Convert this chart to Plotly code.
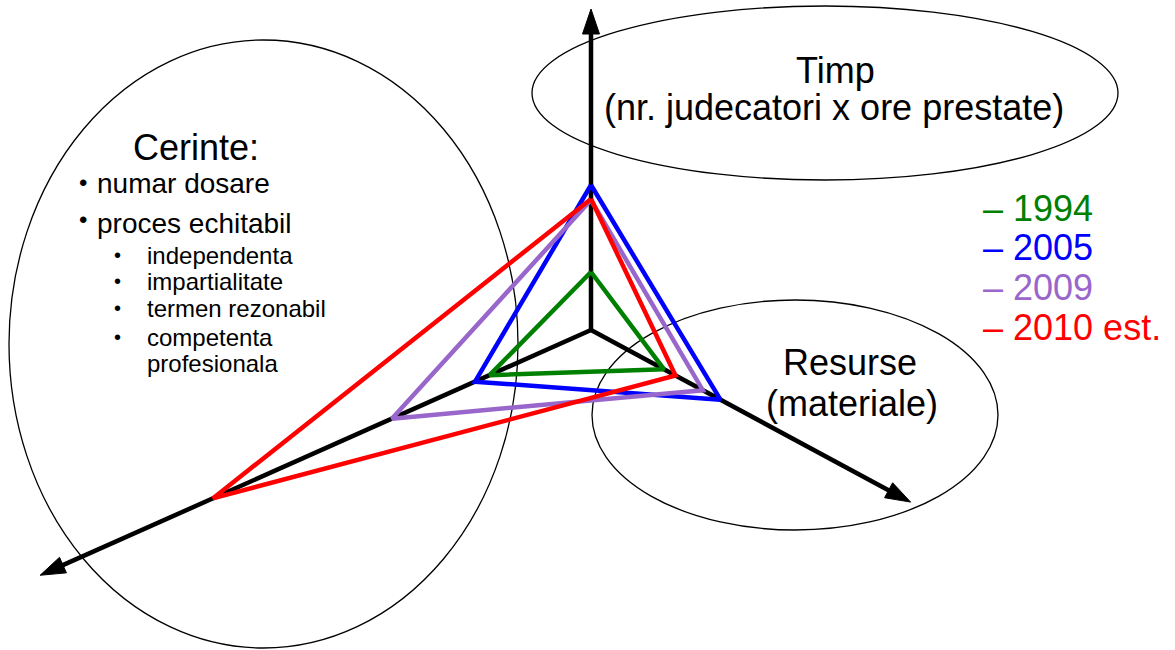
import math
import plotly.graph_objects as go

# ---------------- data ----------------
axis_names = ["Timp", "Cerinte", "Resurse"]
axis_angles_deg = [90.0, 204.0, -28.3]      # direction of each axis
axis_lengths = [321, 603, 363]               # drawn length of each axis

years = ["1994", "2005", "2009", "2010 est."]
timp_values = [58, 145, 130, 131]
cerinte_values = [111, 127, 218, 414]
resurse_values = [83, 147, 127, 96]
year_colors = ["#008000", "#0000ff", "#9966cc", "#ff0000"]

origin = (591, 330)

W, H = 1175, 650
FONT = "Liberation Sans, Arial, sans-serif"
HEAD_LEN, HEAD_HALF = 25, 8.5


def to_xy(axis_idx, r, side=0.0):
    a = math.radians(axis_angles_deg[axis_idx])
    ux, uy = math.cos(a), -math.sin(a)
    px, py = -uy, ux
    return origin[0] + r * ux + side * px, origin[1] + r * uy + side * py


fig = go.Figure()

# axes shafts (below the triangles)
for i in range(3):
    tx, ty = to_xy(i, axis_lengths[i] - HEAD_LEN + 2)
    fig.add_trace(go.Scatter(x=[origin[0], tx], y=[origin[1], ty], mode="lines",
                             line=dict(color="black", width=4.5), hoverinfo="skip",
                             showlegend=False))
    # arrow head
    p_tip = to_xy(i, axis_lengths[i])
    p_l = to_xy(i, axis_lengths[i] - HEAD_LEN, HEAD_HALF)
    p_r = to_xy(i, axis_lengths[i] - HEAD_LEN, -HEAD_HALF)
    fig.add_trace(go.Scatter(x=[p_tip[0], p_l[0], p_r[0], p_tip[0]],
                             y=[p_tip[1], p_l[1], p_r[1], p_tip[1]],
                             mode="lines", fill="toself", fillcolor="black",
                             line=dict(color="black", width=1), hoverinfo="skip",
                             showlegend=False))

# triangles
for k, yr in enumerate(years):
    vals = [timp_values[k], cerinte_values[k], resurse_values[k]]
    pts = [to_xy(i, vals[i]) for i in range(3)]
    xs = [p[0] for p in pts] + [pts[0][0]]
    ys = [p[1] for p in pts] + [pts[0][1]]
    fig.add_trace(go.Scatter(x=xs, y=ys, mode="lines", name=yr,
                             line=dict(color=year_colors[k], width=4.5),
                             showlegend=False, hoverinfo="skip"))

annotations = []


def txt(x, y, s, size, color="black", xanchor="center"):
    annotations.append(dict(x=x, y=y, xref="x", yref="y", text=s, showarrow=False,
                            xanchor=xanchor, yanchor="middle",
                            font=dict(family=FONT, size=size, color=color)))


# ellipses
shapes = [
    dict(type="circle", xref="x", yref="y", x0=9, x1=518, y0=40, y1=648,
         line=dict(color="black", width=1.3), layer="below"),
    dict(type="circle", xref="x", yref="y", x0=532, x1=1118, y0=6, y1=180,
         line=dict(color="black", width=1.3), layer="below"),
    dict(type="circle", xref="x", yref="y", x0=592, x1=998, y0=300, y1=530,
         line=dict(color="black", width=1.3), layer="below"),
]

# labels
txt(835, 70, "Timp", 36)
txt(834, 107, "(nr. judecatori x ore prestate)", 36)
txt(850, 362, "Resurse", 36)
txt(852, 403, "(materiale)", 36)

txt(196, 147, "Cerinte:", 36)
txt(77, 182, "•", 24, xanchor="left")
txt(95, 183, "numar dosare", 28, xanchor="left")
txt(77, 219, "•", 24, xanchor="left")
txt(95, 223, "proces echitabil", 28, xanchor="left")
sub_items = ["independenta", "impartialitate", "termen rezonabil", "competenta", "profesionala"]
sub_y = [255, 281, 308, 337, 363]
for j, s in enumerate(sub_items):
    if j < 4:
        txt(112, sub_y[j], "•", 20, xanchor="left")
    txt(145, sub_y[j], s, 24, xanchor="left")

# legend text
legend_y = [208, 247, 287, 327]
for k, yr in enumerate(years):
    txt(981, legend_y[k], "– " + yr, 36, color=year_colors[k], xanchor="left")

fig.update_layout(
    width=W, height=H,
    margin=dict(l=0, r=0, t=0, b=0),
    paper_bgcolor="white", plot_bgcolor="white",
    xaxis=dict(range=[0, W], visible=False, fixedrange=True),
    yaxis=dict(range=[H, 0], visible=False, fixedrange=True),
    shapes=shapes, annotations=annotations,
    showlegend=False,
)

fig.write_html("out.html", config={"displayModeBar": False},
               post_script="document.body.style.margin='0';")
